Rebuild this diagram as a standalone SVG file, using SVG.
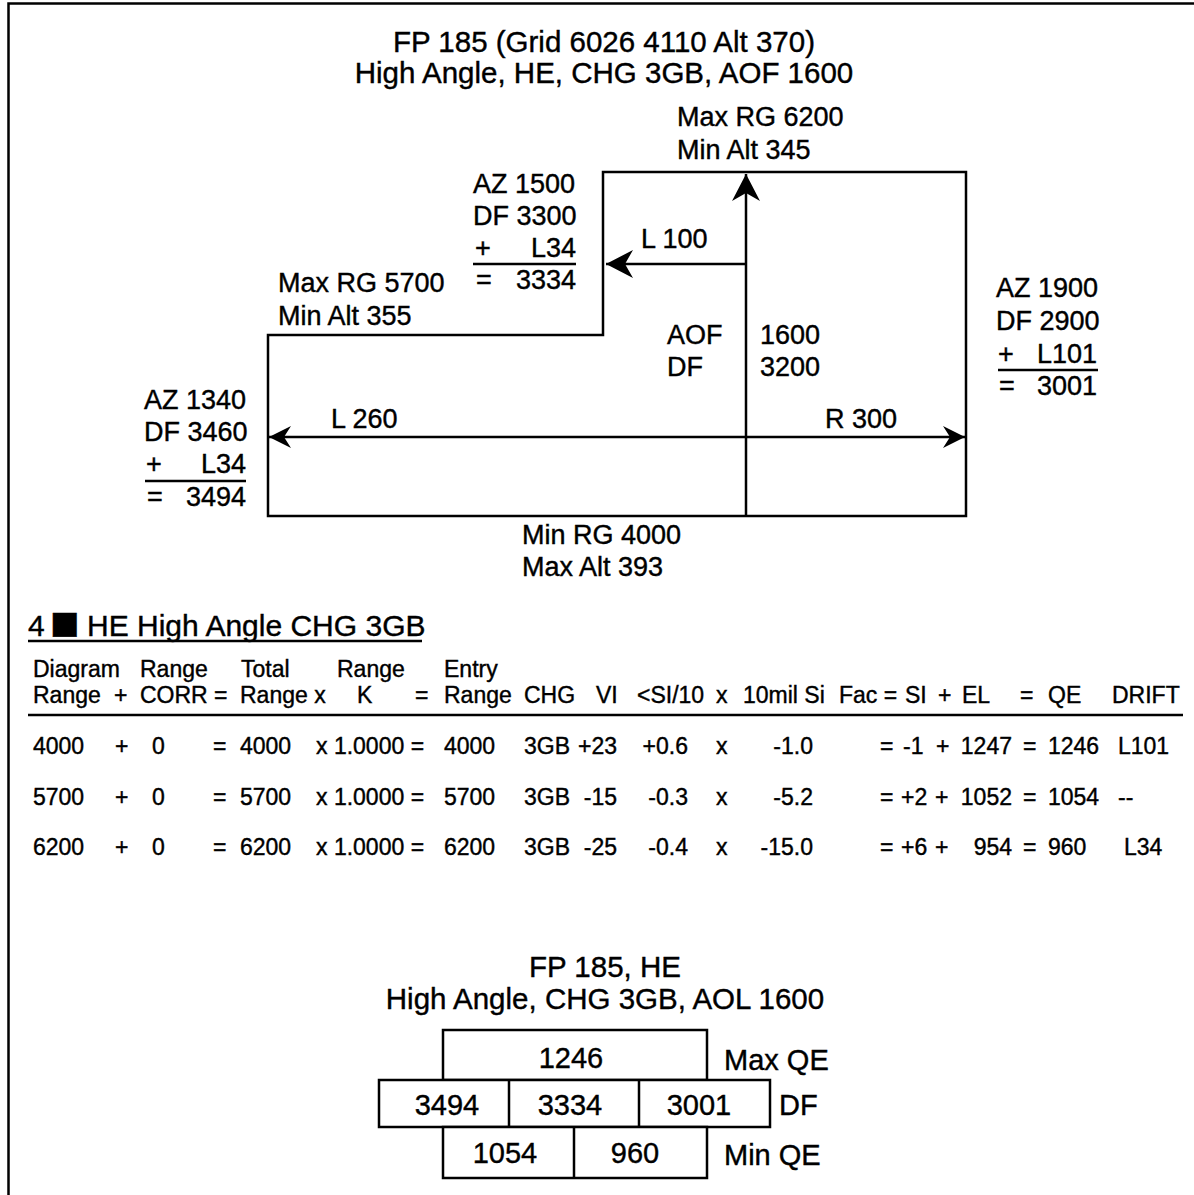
<svg xmlns="http://www.w3.org/2000/svg" width="1194" height="1195" viewBox="0 0 1194 1195">
<style>
text{font-family:"Liberation Sans",Arial,sans-serif;fill:#000;stroke:#000;stroke-width:0.4}
.t{font-size:29.5px}
.d{font-size:27px}
.h{font-size:30px}
.tb{font-size:23px}
.bx{font-size:29px}
.ln{stroke:#000;stroke-width:2.5;fill:none}
.box{fill:#fff;stroke:#000;stroke-width:2.5}
</style>
<defs>
<marker id="aS" markerUnits="userSpaceOnUse" markerWidth="24" markerHeight="24" viewBox="-22 -12 24 24" refX="0" refY="0" orient="auto-start-reverse">
<path d="M0,0 L-22,-11 L-15,0 L-22,11 Z" fill="#000"/>
</marker>
<marker id="aL" markerUnits="userSpaceOnUse" markerWidth="30" markerHeight="30" viewBox="-27 -15 30 30" refX="0" refY="0" orient="auto-start-reverse">
<path d="M0,0 L-27,-14 L-19,0 L-27,14 Z" fill="#000"/>
</marker>
</defs>
<path class="ln" d="M8.5,1195 V3.5 H1194" stroke-width="3"/>
<g id="title">
<text class="t" x="604" y="52" text-anchor="middle">FP 185 (Grid 6026 4110 Alt 370)</text>
<text class="t" x="604" y="83" text-anchor="middle">High Angle, HE, CHG 3GB, AOF 1600</text>
</g>
<g id="sheaf">
<path class="ln" d="M268,335 H603 V172 H966 V516 H268 Z"/>
</g>
<g id="connectors">
<line class="ln" x1="746" y1="516" x2="746" y2="174" marker-end="url(#aL)"/>
<line class="ln" x1="746" y1="264" x2="606" y2="264" marker-end="url(#aL)"/>
<line class="ln" x1="269" y1="437" x2="965" y2="437" marker-start="url(#aS)" marker-end="url(#aS)"/>
</g>
<g id="label-maxrg6200">
<text class="d" x="677" y="126">Max RG 6200</text>
<text class="d" x="677" y="159">Min Alt 345</text>
</g>
<g id="label-az1500">
<text class="d" x="473" y="193">AZ 1500</text>
<text class="d" x="473" y="225">DF 3300</text>
<text class="d" x="475" y="257">+</text>
<text class="d" x="576" y="257" text-anchor="end">L34</text>
<line class="ln" x1="473" y1="264" x2="576" y2="264"/>
<text class="d" x="476" y="289">=</text>
<text class="d" x="576" y="289" text-anchor="end">3334</text>
</g>
<g id="label-l100"><text class="d" x="641" y="248">L 100</text></g>
<g id="label-maxrg5700">
<text class="d" x="278" y="292">Max RG 5700</text>
<text class="d" x="278" y="325">Min Alt 355</text>
</g>
<g id="label-aof">
<text class="d" x="667" y="344">AOF</text>
<text class="d" x="667" y="376">DF</text>
<text class="d" x="760" y="344">1600</text>
<text class="d" x="760" y="376">3200</text>
</g>
<g id="label-az1900">
<text class="d" x="996" y="297">AZ 1900</text>
<text class="d" x="996" y="330">DF 2900</text>
<text class="d" x="998" y="363">+</text>
<text class="d" x="1097" y="363" text-anchor="end">L101</text>
<line class="ln" x1="998" y1="370" x2="1098" y2="370"/>
<text class="d" x="999" y="395">=</text>
<text class="d" x="1097" y="395" text-anchor="end">3001</text>
</g>
<g id="label-az1340">
<text class="d" x="144" y="409">AZ 1340</text>
<text class="d" x="144" y="441">DF 3460</text>
<text class="d" x="146" y="473">+</text>
<text class="d" x="246" y="473" text-anchor="end">L34</text>
<line class="ln" x1="145" y1="481" x2="246" y2="481"/>
<text class="d" x="147" y="506">=</text>
<text class="d" x="246" y="506" text-anchor="end">3494</text>
</g>
<g id="label-l260"><text class="d" x="331" y="428">L 260</text></g>
<g id="label-r300"><text class="d" x="825" y="428">R 300</text></g>
<g id="label-minrg4000">
<text class="d" x="522" y="544">Min RG 4000</text>
<text class="d" x="522" y="576">Max Alt 393</text>
</g>
<g id="table">
<text class="h" x="28" y="636">4<tspan x="50" dy="-3" style="font-family:'DejaVu Sans',sans-serif;font-size:31px">■</tspan><tspan x="87" dy="3">HE High Angle CHG 3GB</tspan></text>
<line class="ln" x1="28" y1="641" x2="422" y2="641"/>
<g>
<text class="tb" x="33" y="677">Diagram</text>
<text class="tb" x="140" y="677">Range</text>
<text class="tb" x="241" y="677">Total</text>
<text class="tb" x="337" y="677">Range</text>
<text class="tb" x="444" y="677">Entry</text>
<text class="tb" x="33" y="703">Range</text>
<text class="tb" x="114" y="703">+</text>
<text class="tb" x="140" y="703">CORR =</text>
<text class="tb" x="240" y="703">Range x</text>
<text class="tb" x="357" y="703">K</text>
<text class="tb" x="415" y="703">=</text>
<text class="tb" x="444" y="703">Range</text>
<text class="tb" x="524" y="703">CHG</text>
<text class="tb" x="596" y="703">VI</text>
<text class="tb" x="637" y="703">&lt;SI/10</text>
<text class="tb" x="716" y="703">x</text>
<text class="tb" x="743" y="703">10mil Si</text>
<text class="tb" x="839" y="703">Fac =</text>
<text class="tb" x="905" y="703">SI</text>
<text class="tb" x="938" y="703">+</text>
<text class="tb" x="962" y="703">EL</text>
<text class="tb" x="1020" y="703">=</text>
<text class="tb" x="1048" y="703">QE</text>
<text class="tb" x="1112" y="703">DRIFT</text>
</g>
<line class="ln" x1="28" y1="715" x2="1183" y2="715" stroke-width="3"/>
<g id="row1">
<text class="tb" x="33" y="754">4000</text>
<text class="tb" x="115" y="754">+</text>
<text class="tb" x="152" y="754">0</text>
<text class="tb" x="213" y="754">=</text>
<text class="tb" x="240" y="754">4000</text>
<text class="tb" x="316" y="754">x 1.0000 =</text>
<text class="tb" x="444" y="754">4000</text>
<text class="tb" x="524" y="754">3GB</text>
<text class="tb" x="617" y="754" text-anchor="end">+23</text>
<text class="tb" x="688" y="754" text-anchor="end">+0.6</text>
<text class="tb" x="716" y="754">x</text>
<text class="tb" x="813" y="754" text-anchor="end">-1.0</text>
<text class="tb" x="880" y="754">=</text>
<text class="tb" x="903" y="754">-1</text>
<text class="tb" x="936" y="754">+</text>
<text class="tb" x="1012" y="754" text-anchor="end">1247</text>
<text class="tb" x="1023" y="754">=</text>
<text class="tb" x="1048" y="754">1246</text>
<text class="tb" x="1118" y="754">L101</text>
</g>
<g id="row2">
<text class="tb" x="33" y="805">5700</text>
<text class="tb" x="115" y="805">+</text>
<text class="tb" x="152" y="805">0</text>
<text class="tb" x="213" y="805">=</text>
<text class="tb" x="240" y="805">5700</text>
<text class="tb" x="316" y="805">x 1.0000 =</text>
<text class="tb" x="444" y="805">5700</text>
<text class="tb" x="524" y="805">3GB</text>
<text class="tb" x="617" y="805" text-anchor="end">-15</text>
<text class="tb" x="688" y="805" text-anchor="end">-0.3</text>
<text class="tb" x="716" y="805">x</text>
<text class="tb" x="813" y="805" text-anchor="end">-5.2</text>
<text class="tb" x="880" y="805">=</text>
<text class="tb" x="901" y="805">+2</text>
<text class="tb" x="935" y="805">+</text>
<text class="tb" x="1012" y="805" text-anchor="end">1052</text>
<text class="tb" x="1023" y="805">=</text>
<text class="tb" x="1048" y="805">1054</text>
<text class="tb" x="1118" y="805">--</text>
</g>
<g id="row3">
<text class="tb" x="33" y="855">6200</text>
<text class="tb" x="115" y="855">+</text>
<text class="tb" x="152" y="855">0</text>
<text class="tb" x="213" y="855">=</text>
<text class="tb" x="240" y="855">6200</text>
<text class="tb" x="316" y="855">x 1.0000 =</text>
<text class="tb" x="444" y="855">6200</text>
<text class="tb" x="524" y="855">3GB</text>
<text class="tb" x="617" y="855" text-anchor="end">-25</text>
<text class="tb" x="688" y="855" text-anchor="end">-0.4</text>
<text class="tb" x="716" y="855">x</text>
<text class="tb" x="813" y="855" text-anchor="end">-15.0</text>
<text class="tb" x="880" y="855">=</text>
<text class="tb" x="901" y="855">+6</text>
<text class="tb" x="935" y="855">+</text>
<text class="tb" x="1012" y="855" text-anchor="end">954</text>
<text class="tb" x="1023" y="855">=</text>
<text class="tb" x="1048" y="855">960</text>
<text class="tb" x="1124" y="855">L34</text>
</g>
</g>
<g id="summary-title">
<text class="t" x="605" y="977" text-anchor="middle">FP 185, HE</text>
<text class="t" x="605" y="1009" text-anchor="middle">High Angle, CHG 3GB, AOL 1600</text>
</g>
<g id="box-maxqe">
<rect class="box" x="443" y="1030" width="264" height="50"/>
<text class="bx" x="571" y="1068" text-anchor="middle">1246</text>
<text class="bx" x="724" y="1070">Max QE</text>
</g>
<g id="box-df">
<rect class="box" x="379" y="1080" width="391" height="47"/>
<line class="ln" x1="509" y1="1080" x2="509" y2="1127"/>
<line class="ln" x1="639" y1="1080" x2="639" y2="1127"/>
<text class="bx" x="447" y="1115" text-anchor="middle">3494</text>
<text class="bx" x="570" y="1115" text-anchor="middle">3334</text>
<text class="bx" x="699" y="1115" text-anchor="middle">3001</text>
<text class="bx" x="779" y="1115">DF</text>
</g>
<g id="box-minqe">
<rect class="box" x="443" y="1127" width="264" height="51"/>
<line class="ln" x1="574" y1="1127" x2="574" y2="1178"/>
<text class="bx" x="505" y="1163" text-anchor="middle">1054</text>
<text class="bx" x="635" y="1163" text-anchor="middle">960</text>
<text class="bx" x="724" y="1165">Min QE</text>
</g>
</svg>
